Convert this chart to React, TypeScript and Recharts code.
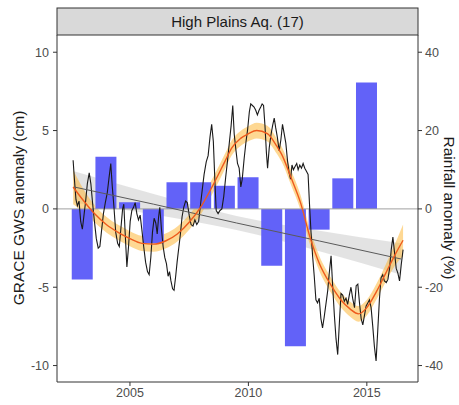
import {
  Area,
  Bar,
  ComposedChart,
  Line,
  ReferenceLine,
  XAxis,
  YAxis,
} from "recharts";

// annual rainfall anomaly (%), right axis
const rainYears = [2003, 2004, 2005, 2006, 2007, 2008, 2009, 2010, 2011, 2012, 2013, 2014, 2015];
const rainAnom = [-18, 13.3, 1.7, -8.8, 6.8, 6.8, 5.9, 8.1, -14.5, -35.1, -5.3, 7.8, 32.3];

// GRACE groundwater storage anomaly (cm), [decimal year, value]
const gws: [number, number][] = [
  [2002.6, 3.1], [2002.66, 1.8], [2002.72, 0.6], [2002.78, 0.2], [2002.85, 0.5], [2002.92, -0.8], [2002.99, -1.3],
  [2003.06, -0.4], [2003.13, 0.5], [2003.2, 1.6], [2003.28, 2.3], [2003.35, 1.6], [2003.42, 0.4], [2003.5, -0.8],
  [2003.58, -1.9], [2003.66, -2.5], [2003.73, -2.4], [2003.8, -1.4], [2003.88, -0.3], [2003.96, 0.4],
  [2004.04, 1.0], [2004.11, 1.9], [2004.19, 2.9], [2004.25, 1.5], [2004.32, 0.2], [2004.4, -1.5], [2004.48, -2.2],
  [2004.55, -2.4], [2004.62, -1.2], [2004.69, 0.0], [2004.74, 0.3], [2004.8, -1.6], [2004.87, -3.7], [2004.94, -2.4],
  [2005.01, -0.8], [2005.08, -0.1], [2005.15, 0.1], [2005.22, 0.4], [2005.29, -0.3], [2005.36, -0.7], [2005.43, -0.4],
  [2005.5, -1.3], [2005.58, -2.4], [2005.66, -3.4], [2005.74, -4.0], [2005.81, -4.2], [2005.88, -3.1], [2005.95, -1.5],
  [2006.02, -0.6], [2006.09, -0.9], [2006.15, -1.6], [2006.21, -0.5], [2006.26, 0.1], [2006.33, -1.3], [2006.4, -2.4],
  [2006.47, -3.1], [2006.54, -3.5], [2006.61, -4.3], [2006.67, -4.0], [2006.73, -4.6], [2006.8, -5.1], [2006.86, -5.2],
  [2006.93, -4.3], [2006.99, -3.4],
  [2007.06, -2.5], [2007.13, -1.6], [2007.2, -0.5], [2007.27, 0.1], [2007.35, 0.5], [2007.42, 0.4], [2007.5, -0.4],
  [2007.58, -1.0], [2007.66, -1.1], [2007.74, -0.7], [2007.82, -1.0], [2007.9, -0.8], [2007.98, 0.3],
  [2008.05, 1.2], [2008.13, 2.2], [2008.22, 3.0], [2008.3, 3.4], [2008.38, 4.6], [2008.45, 5.4], [2008.52, 4.3],
  [2008.58, 2.0], [2008.64, -0.1], [2008.72, -0.3], [2008.8, -0.1], [2008.88, 0.0], [2008.96, 0.8],
  [2009.04, 2.0], [2009.12, 3.1], [2009.2, 4.3], [2009.27, 5.3], [2009.34, 6.6], [2009.4, 4.8], [2009.47, 3.8],
  [2009.54, 2.9], [2009.61, 2.6], [2009.68, 1.4], [2009.74, 1.9], [2009.82, 3.2], [2009.9, 4.3], [2009.97, 5.1],
  [2010.04, 6.2], [2010.1, 6.7], [2010.17, 6.6], [2010.24, 6.5], [2010.31, 6.3], [2010.38, 6.0], [2010.45, 6.3],
  [2010.52, 6.5], [2010.58, 6.7], [2010.64, 6.6], [2010.7, 5.3], [2010.76, 3.6], [2010.81, 2.6], [2010.88, 3.9],
  [2010.95, 4.7],
  [2011.02, 5.3], [2011.09, 5.8], [2011.15, 5.2], [2011.22, 4.6], [2011.3, 3.7], [2011.37, 4.4], [2011.44, 5.4],
  [2011.51, 4.8], [2011.58, 4.2], [2011.65, 3.1], [2011.72, 2.3], [2011.78, 1.9], [2011.84, 2.8], [2011.9, 2.5],
  [2011.97, 2.7],
  [2012.04, 2.9], [2012.1, 2.5], [2012.17, 2.8], [2012.24, 2.6], [2012.31, 2.9], [2012.38, 2.6], [2012.45, 2.4],
  [2012.52, 2.2], [2012.58, 0.3], [2012.64, -1.4], [2012.71, -3.0], [2012.78, -4.3], [2012.85, -5.8], [2012.92, -6.0],
  [2012.99, -5.7],
  [2013.06, -7.0], [2013.13, -7.6], [2013.2, -6.9], [2013.28, -6.0], [2013.35, -5.2], [2013.42, -4.0], [2013.49, -3.0],
  [2013.56, -5.0], [2013.63, -6.8], [2013.7, -8.3], [2013.77, -9.3], [2013.84, -7.3], [2013.91, -5.4], [2013.98, -5.5],
  [2014.05, -5.9], [2014.12, -5.7], [2014.19, -6.1], [2014.26, -5.5], [2014.33, -5.0], [2014.4, -5.7], [2014.48, -6.3],
  [2014.55, -4.9], [2014.62, -4.8], [2014.69, -6.0], [2014.76, -7.0], [2014.83, -7.4], [2014.9, -6.8], [2014.97, -6.2],
  [2015.04, -6.0], [2015.11, -5.8], [2015.18, -6.3], [2015.25, -7.5], [2015.32, -8.8], [2015.39, -9.7], [2015.46, -7.8],
  [2015.53, -5.8], [2015.6, -4.4], [2015.67, -4.2], [2015.74, -4.6], [2015.82, -4.7], [2015.89, -4.5], [2015.96, -3.8],
  [2016.03, -2.6], [2016.1, -1.8], [2016.17, -2.8], [2016.24, -3.8], [2016.31, -4.1], [2016.38, -4.6], [2016.45, -3.6],
  [2016.53, -2.6],
];

// loess smooth: year, fitted value, half width of the band
const loessT = [2002.6, 2003.0, 2003.5, 2004.0, 2004.5, 2005.0, 2005.5, 2006.0, 2006.5, 2007.0, 2007.5, 2008.0,
  2008.5, 2009.0, 2009.3, 2009.67, 2010.0, 2010.35, 2010.8, 2011.2, 2011.4, 2011.8, 2012.2, 2012.6, 2013.0,
  2013.5, 2013.9, 2014.3, 2014.65, 2015.0, 2015.4, 2015.8, 2016.2, 2016.53];
const loessV = [1.4, 0.6, -0.3, -1.0, -1.5, -1.9, -2.2, -2.25, -2.05, -1.6, -0.85, 0.15,
  1.5, 3.0, 3.9, 4.5, 4.8, 5.0, 4.8, 4.0, 3.5, 2.0, 0.4, -1.8, -3.5,
  -4.9, -5.8, -6.4, -6.7, -6.3, -5.3, -4.1, -2.9, -2.0];
const loessHW = [1.1, 0.75, 0.55, 0.5, 0.48, 0.48, 0.48, 0.48, 0.48, 0.48, 0.48, 0.48,
  0.48, 0.48, 0.48, 0.48, 0.48, 0.5, 0.5, 0.48, 0.48, 0.48, 0.48, 0.48, 0.48,
  0.48, 0.48, 0.48, 0.5, 0.5, 0.5, 0.55, 0.7, 1.0];

// linear trend with its band
const linT = [2002.64, 2006.0, 2009.5, 2013.0, 2016.45];
const linV = [1.4, 0.3, -0.9, -2.05, -3.2];
const linHW = [1.0, 0.65, 0.45, 0.65, 1.0];

const leftTicks = [-10, -5, 0, 5, 10];
const rightTicks = [-40, -20, 0, 20, 40];
const yearTicks = [2005, 2010, 2015];
const xDomain = [2001.92, 2017.16];

const W = 459;
const H = 405;
const FONT = "'Liberation Sans', Arial, sans-serif";

const barData = rainYears.map((t, i) => ({ t, rain: rainAnom[i] }));
const gwsData = gws.map(([t, v]) => ({ t, v }));
const loessData = loessT.map((t, i) => ({ t, v: loessV[i], band: [loessV[i] - loessHW[i], loessV[i] + loessHW[i]] }));
const linData = linT.map((t, i) => ({ t, v: linV[i], band: [linV[i] - linHW[i], linV[i] + linHW[i]] }));

const tickStyle = { fill: "#4d4d4d", fontSize: 12.5, fontFamily: FONT };

export default function App() {
  return (
    <div style={{ position: "absolute", left: 0, top: 0, width: W, height: H, background: "#fff" }}>
      <ComposedChart
        width={W}
        height={H}
        data={barData}
        margin={{ top: 35, right: 0, bottom: 0, left: 0 }}
      >
        {/* hidden axis just for the bars so their band width comes from yearly spacing */}
        <XAxis xAxisId="bars" dataKey="t" type="number" domain={xDomain} allowDataOverflow hide />
        <XAxis
          dataKey="t"
          type="number"
          domain={xDomain}
          allowDataOverflow
          ticks={yearTicks}
          height={23}
          tick={tickStyle}
          tickSize={4}
          tickMargin={2}
          stroke="#333"
        />
        <YAxis
          yAxisId="l"
          domain={[-11.05, 11.1]}
          allowDataOverflow
          ticks={leftTicks}
          width={57}
          tick={tickStyle}
          tickSize={4}
          tickMargin={4}
          stroke="#333"
        />
        <YAxis
          yAxisId="r"
          orientation="right"
          domain={[-44.2, 44.4]}
          allowDataOverflow
          ticks={rightTicks}
          width={41}
          tick={tickStyle}
          tickSize={4}
          tickMargin={3}
          stroke="#333"
        />
        <Bar xAxisId="bars" yAxisId="r" dataKey="rain" fill="#6262f8" barSize={21} isAnimationActive={false} />
        <ReferenceLine yAxisId="l" y={0} stroke="#a0a0a0" strokeWidth={1} />
        <Line
          yAxisId="l"
          data={gwsData}
          dataKey="v"
          type="linear"
          stroke="#1a1a1a"
          strokeWidth={1.1}
          dot={false}
          isAnimationActive={false}
        />
        <Area
          yAxisId="l"
          data={linData}
          dataKey="band"
          type="monotone"
          stroke="none"
          fill="#bdbdbd"
          fillOpacity={0.42}
          isAnimationActive={false}
        />
        <Line
          yAxisId="l"
          data={linData}
          dataKey="v"
          type="linear"
          stroke="#5a5a5a"
          strokeWidth={1}
          dot={false}
          isAnimationActive={false}
        />
        <Area
          yAxisId="l"
          data={loessData}
          dataKey="band"
          type="monotone"
          stroke="none"
          fill="#fdb83a"
          fillOpacity={0.55}
          isAnimationActive={false}
        />
        <Line
          yAxisId="l"
          data={loessData}
          dataKey="v"
          type="monotone"
          stroke="#ee5a1c"
          strokeWidth={1.4}
          dot={false}
          isAnimationActive={false}
        />
      </ComposedChart>
      <svg
        width={W}
        height={H}
        style={{ position: "absolute", left: 0, top: 0, pointerEvents: "none" }}
        fontFamily={FONT}
      >
        <rect x={57} y={8} width={361} height={27} fill="#d9d9d9" stroke="#333" strokeWidth={1} />
        <text x={237.5} y={27} textAnchor="middle" fontSize={15} fill="#1a1a1a">
          High Plains Aq. (17)
        </text>
        <text
          transform="translate(24 208) rotate(-90)"
          textAnchor="middle"
          fontSize={15.5}
          fill="#1a1a1a"
        >
          GRACE GWS anomaly (cm)
        </text>
        <text
          transform="translate(444 208) rotate(90)"
          textAnchor="middle"
          fontSize={15.5}
          fill="#1a1a1a"
        >
          Rainfall anomaly (%)
        </text>
      </svg>
    </div>
  );
}
